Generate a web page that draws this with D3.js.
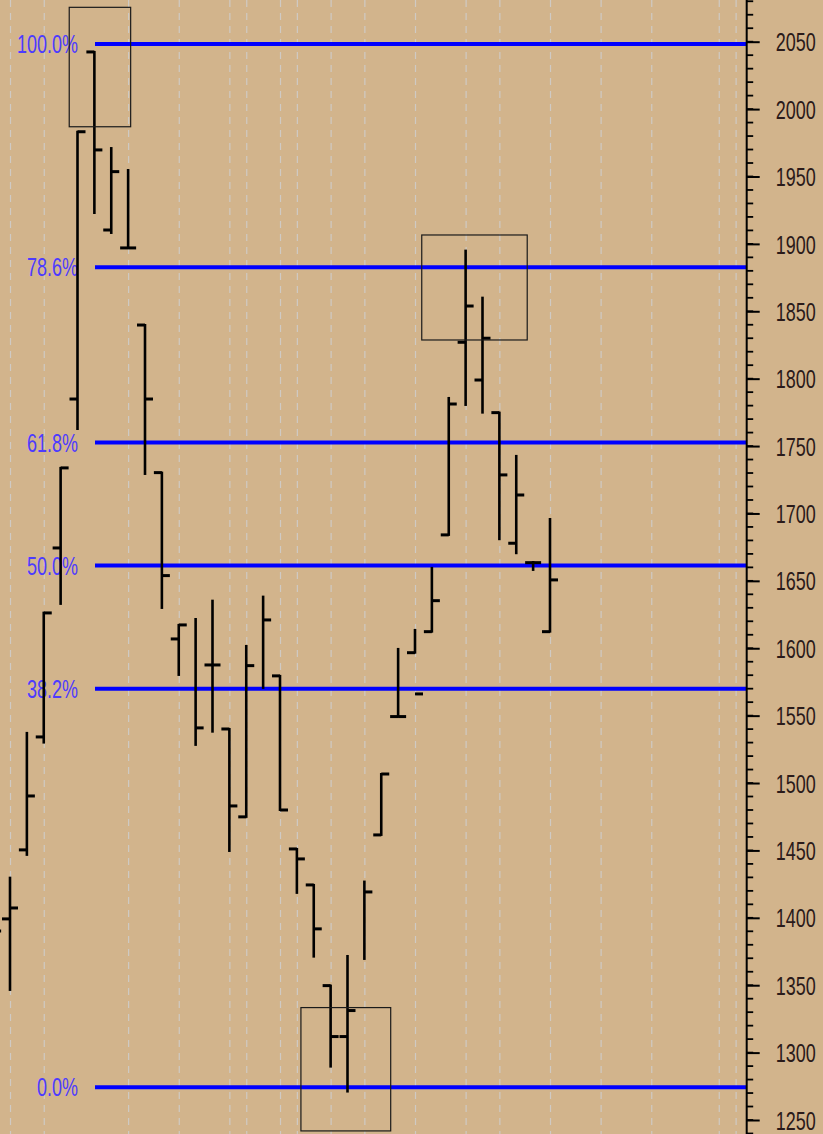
<!DOCTYPE html>
<html>
<head>
<meta charset="utf-8">
<script src="https://cdn.jsdelivr.net/npm/d3@7"></script>
<style>
  body { margin: 0; background: #d2b48c; }
  svg { display: block; }
</style>
</head>
<body>
<svg id="chart"></svg>
<script>
const width = 823;
const height = 1134;

// OHLC bars, one per period (index -1 is cut off at the left edge)
const barIndex = [-1, 0, 1, 2, 3, 4, 5, 6, 7, 8, 9, 10, 11, 12, 13, 14, 15, 16,
  17, 18, 19, 20, 21, 22, 23, 24, 25, 26, 27, 28, 29, 30, 31, 32];
const opens = [1395, 1399.2, 1450.4, 1534.2, 1674.4, 1784.9, 2042.4, 1910.3, 1897, 1839.8, 1730.3, 1606.9, null, 1587.6,
  1540.1, 1474.9, null, 1579.5, 1451.1, 1424.4, 1349.7, 1311.9, null, 1461.5, 1549.3, 1596.7, 1612.3,
  1684.1, 1827, 1799, 1774.8, 1677.9, 1663.5, 1612.3];
const highs = [1405, 1429.8, 1537.2, 1626.4, 1733.8, 1983.2, 2042.4, 1971.1, 1954.8, 1839.8, 1730.3, 1617.3, 1621.7, 1635.3,
  1540.1, 1601.7, 1638.3, 1579.5, 1451.1, 1424.4, 1349.7, 1371.7, 1426.9, 1506.7, 1599.5, 1613.6, 1659.6,
  1785.7, 1895, 1860.1, 1774.8, 1742.7, 1664, 1695.9];
const lows = [1370, 1346.5, 1446.7, 1530, 1632.9, 1762.7, 1922.9, 1908.1, 1897, 1729.3, 1629.9, 1580.2, 1528.3, 1538.1,
  1449.6, 1474.9, 1570.6, 1480, 1418.5, 1371.2, 1289.6, 1271.1, 1369.5, 1461.5, 1549.3, 1596.7, 1612.3,
  1684.1, 1780.5, 1774.8, 1680.9, 1670.5, 1658.1, 1612.3];
const closes = [1390.3, 1407.3, 1490.4, 1626.2, 1733.8, 1983.2, 1969.7, 1953.6, 1897, 1784.9, 1653.9, 1617.3, 1540.9, 1587.6,
  1483, 1587.1, 1621, 1480, 1443.7, 1391.8, 1311.9, 1331.2, 1419.2, 1506.7, 1549.3, 1566.1, 1635.3,
  1781.2, 1853.9, 1830, 1728.6, 1713.7, 1663.5, 1650.7];

// Fibonacci retracement from swing high to swing low
const fibHigh = 2048.3;
const fibLow = 1274.3;
const fibLevels = [1, 0.786, 0.618, 0.5, 0.382, 0];
const fibLabels = ["100.0%", "78.6%", "61.8%", "50.0%", "38.2%", "0.0%"];

// price axis
const majorTicks = [1250, 1300, 1350, 1400, 1450, 1500, 1550, 1600, 1650, 1700, 1750, 1800, 1850, 1900, 1950, 2000, 2050];
const minorTicks = d3.range(1240, 2081, 10);

// dashed vertical grid (period index)
const gridIndex = [0, 2, 7, 10, 13, 14, 16, 17, 19, 21, 24, 27, 29, 32, 35, 38, 42, 43];

// highlight boxes: [index from, index to, price top, price bottom]
const boxes = [
  [3.51, 7.15, 2075.5, 1986.9],
  [24.4, 30.65, 1906.6, 1828.7],
  [17.24, 22.56, 1333.4, 1241.9]
];

const bars = barIndex.map((d, i) => ({
  i: d, open: opens[i], high: highs[i], low: lows[i], close: closes[i]
}));

const svg = d3.select("#chart")
  .attr("width", width)
  .attr("height", height);

svg.append("rect")
  .attr("width", width)
  .attr("height", height)
  .attr("fill", "#d2b48c");

const axisX = 746.7;

const x = d3.scaleLinear().domain([0, 32]).range([10, 550]);
const y = d3.scaleLinear().domain([1250, 2050]).range([1120, 41.7]);

// grid
svg.append("g")
  .selectAll("line")
  .data(gridIndex)
  .enter()
  .append("line")
    .attr("x1", d => x(d) + 0.5)
    .attr("x2", d => x(d) + 0.5)
    .attr("y1", 0)
    .attr("y2", height)
    .attr("stroke", "#cfcac4")
    .attr("stroke-width", 1.2)
    .attr("stroke-dasharray", "7,6");

// fib lines + labels
const fibG = svg.append("g");
fibLevels.forEach((lv, k) => {
  const py = y(fibLow + lv * (fibHigh - fibLow));
  fibG.append("line")
    .attr("x1", 95)
    .attr("x2", axisX)
    .attr("y1", py)
    .attr("y2", py)
    .attr("stroke", "#0000ff")
    .attr("stroke-width", 4);
  fibG.append("text")
    .attr("transform", `translate(78,${py}) scale(1,1.45)`)
    .attr("text-anchor", "end")
    .attr("dy", "0.35em")
    .attr("font-family", "Liberation Sans, Arial, sans-serif")
    .attr("font-size", "18px")
    .attr("fill", "#4d3bff")
    .text(fibLabels[k]);
});

// OHLC bars
const barG = svg.append("g")
  .attr("stroke", "#000")
  .attr("stroke-linecap", "butt");

const tick = 8;

barG.selectAll("line.hl")
  .data(bars)
  .enter()
  .append("line")
    .attr("class", "hl")
    .attr("x1", d => x(d.i))
    .attr("x2", d => x(d.i))
    .attr("y1", d => y(d.high) - 1)
    .attr("y2", d => y(d.low) + 1)
    .attr("stroke-width", 2.6);

barG.selectAll("line.op")
  .data(bars.filter(d => d.open != null))
  .enter()
  .append("line")
    .attr("class", "op")
    .attr("x1", d => x(d.i) - tick)
    .attr("x2", d => x(d.i))
    .attr("y1", d => y(d.open))
    .attr("y2", d => y(d.open))
    .attr("stroke-width", 3);

barG.selectAll("line.cl")
  .data(bars)
  .enter()
  .append("line")
    .attr("class", "cl")
    .attr("x1", d => x(d.i))
    .attr("x2", d => x(d.i) + tick)
    .attr("y1", d => y(d.close))
    .attr("y2", d => y(d.close))
    .attr("stroke-width", 3);

// boxes
svg.append("g")
  .selectAll("rect")
  .data(boxes)
  .enter()
  .append("rect")
    .attr("x", d => x(d[0]))
    .attr("y", d => y(d[2]))
    .attr("width", d => x(d[1]) - x(d[0]))
    .attr("height", d => y(d[3]) - y(d[2]))
    .attr("fill", "none")
    .attr("stroke", "#1a1a1a")
    .attr("stroke-width", 1.2);

// right price axis
const axisG = svg.append("g")
  .attr("transform", `translate(${axisX},0)`);

axisG.append("line")
  .attr("x1", 0).attr("x2", 0)
  .attr("y1", 0).attr("y2", height)
  .attr("stroke", "#000")
  .attr("stroke-width", 2);

axisG.selectAll("line.minor")
  .data(minorTicks)
  .enter()
  .append("line")
    .attr("class", "minor")
    .attr("x1", 0)
    .attr("x2", 6.5)
    .attr("y1", d => y(d))
    .attr("y2", d => y(d))
    .attr("stroke", "#000")
    .attr("stroke-width", 1.8);

const yAxis = d3.axisRight(y)
  .tickValues(majorTicks)
  .tickSize(13)
  .tickPadding(16)
  .tickFormat(d3.format("d"));

const yAxisG = axisG.append("g").call(yAxis);
yAxisG.select(".domain").remove();
yAxisG.selectAll(".tick line")
  .attr("stroke", "#000")
  .attr("stroke-width", 2);
yAxisG.selectAll(".tick text")
  .attr("transform", "scale(1,1.45)")
  .attr("dy", "0.35em")
  .attr("font-family", "Liberation Sans, Arial, sans-serif")
  .attr("font-size", "18px")
  .attr("fill", "#2a1a1a");
</script>
</body>
</html>
